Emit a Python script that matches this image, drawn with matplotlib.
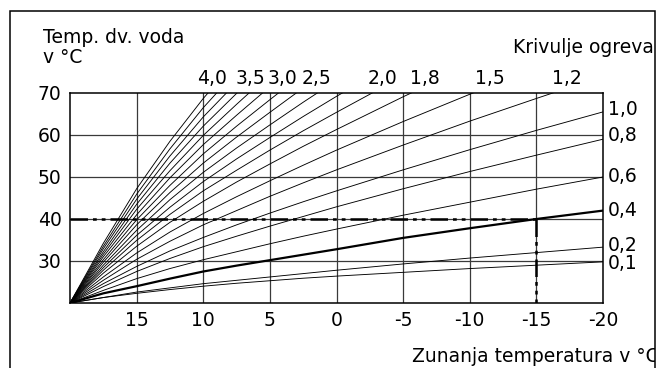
import numpy as np
import matplotlib
matplotlib.use("Agg")
import matplotlib.pyplot as plt
from matplotlib.patches import Rectangle

plt.rcParams['font.family'] = ['DejaVu Sans']

# Aussentemperatur (x) in °C
OUT_T = [20, 17.5, 15, 12.5, 10, 7.5, 5, 2.5, 0, -5, -10, -15, -20]

# Heizkurven: Vorlauftemperatur je Aussentemperatur
CURVE_NAMES = ["4,0", "3,8", "3,6", "3,4", "3,2", "3,0", "2,8", "2,6", "2,4",
               "2,2", "2,0", "1,8", "1,5", "1,2", "1,0", "0,8", "0,6", "0,4",
               "0,2", "0,1"]
CURVES = [
    [20, 34.2, 47.2, 58.5, 68.7, 77.8],
    [20, 33.5, 45.9, 56.7, 66.5, 75.2],
    [20, 32.9, 44.7, 55.0, 64.3, 72.5],
    [20, 32.2, 43.5, 53.3, 62.1, 69.9, 77.5],
    [20, 31.6, 42.3, 51.5, 59.9, 67.3, 74.5],
    [20, 31.0, 41.0, 49.8, 57.7, 64.7, 71.5],
    [20, 30.3, 39.8, 48.0, 55.5, 62.1, 68.4, 74.6],
    [20, 29.7, 38.6, 46.3, 53.3, 59.5, 65.4, 71.2],
    [20, 29.0, 37.3, 44.6, 51.1, 56.9, 62.4, 67.8, 73.0],
    [20, 28.4, 36.1, 42.8, 48.9, 54.3, 59.4, 64.4, 69.2, 78.4],
    [20, 27.8, 34.9, 41.1, 46.7, 51.6, 56.4, 61.0, 65.4, 74.0],
    [20, 27.1, 33.5, 39.2, 44.2, 48.8, 53.1, 57.3, 61.3, 69.1, 76.5],
    [20, 26.2, 31.9, 36.9, 41.3, 45.3, 49.1, 52.8, 56.4, 63.2, 69.7, 75.9],
    [20, 25.4, 30.4, 34.7, 38.6, 42.0, 45.4, 48.6, 51.7, 57.6, 63.3, 68.7, 74.0],
    [20, 24.6, 28.7, 32.4, 35.6, 38.6, 41.4, 44.1, 46.7, 51.7, 56.5, 61.1, 65.5],
    [20, 23.9, 27.5, 30.6, 33.4, 35.9, 38.3, 40.6, 42.9, 47.2, 51.3, 55.2, 59.0],
    [20, 23.0, 25.8, 28.2, 30.3, 32.2, 34.1, 35.9, 37.6, 40.9, 44.0, 47.1, 50.0],
    [20, 22.3, 24.0, 25.8, 27.5, 28.9, 30.2, 31.5, 32.8, 35.5, 37.8, 40.0, 42.0],
    [20, 21.3, 22.6, 23.6, 24.6, 25.4, 26.2, 27.0, 27.8, 29.3, 30.7, 32.0, 33.3],
    [20, 21.3, 22.3, 23.2, 24.0, 24.7, 25.3, 25.9, 26.4, 27.3, 28.2, 29.0, 29.8],
]
BOLD_CURVE = "0,4"

# Beschriftungen oben und rechts
TOP_LABELS = ["4,0", "3,5", "3,0", "2,5", "2,0", "1,8", "1,5", "1,2"]
TOP_LABEL_X = [10.5, 7.6, 5.15, 2.6, -2.35, -5.5, -10.4, -16.2]
RIGHT_LABELS = ["1,0", "0,8", "0,6", "0,4", "0,2", "0,1"]
RIGHT_LABEL_DY = [0.5, 0.9, 0.2, 0.1, 0.4, -0.4]

# Auslegungspunkt
DESIGN_T = -15
DESIGN_FLOW = 40

X_TICKS = [15, 10, 5, 0, -5, -10, -15, -20]
Y_TICKS = [30, 40, 50, 60, 70]

W, H = 661, 368
fig = plt.figure(figsize=(W / 100, H / 100), dpi=100)
ax = fig.add_axes([70 / W, 65 / H, 533 / W, 210 / H])

ax.set_xlim(20, -20)
ax.set_ylim(20, 70)

grid_c = "#3a3a3a"
for t in X_TICKS[:-1]:
    ax.axvline(t, color=grid_c, lw=0.9, zorder=1)
for v in Y_TICKS[:-1]:
    ax.axhline(v, color=grid_c, lw=0.9, zorder=1)

for name, vals in zip(CURVE_NAMES, CURVES):
    bold = name == BOLD_CURVE
    ax.plot(OUT_T[:len(vals)], vals, color="black",
            lw=1.6 if bold else 0.65, zorder=3 if bold else 2,
            solid_joinstyle="round")

# Auslegung: Vorlauf 40 °C bei -15 °C
dash = (0, (7, 2, 1.5, 2, 1.5, 2))
ax.plot([20, DESIGN_T], [DESIGN_FLOW, DESIGN_FLOW], color="black", lw=1.8,
        linestyle=dash, zorder=4)
ax.plot([DESIGN_T, DESIGN_T], [DESIGN_FLOW, 20], color="black", lw=1.8,
        linestyle=dash, zorder=4)

for sp in ax.spines.values():
    sp.set_linewidth(1.1)
    sp.set_color("black")

fs = 13.5
ax.set_xticks(X_TICKS)
ax.set_xticklabels([str(t) for t in X_TICKS])
ax.set_yticks(Y_TICKS)
ax.set_yticklabels([str(v) for v in Y_TICKS])
ax.tick_params(length=0, labelsize=fs, pad=6)

for lab, x in zip(TOP_LABELS, TOP_LABEL_X):
    ax.text(x, 71.2, lab, fontsize=fs, ha="left", va="bottom", clip_on=False)

names = list(CURVE_NAMES)
for lab, dy in zip(RIGHT_LABELS, RIGHT_LABEL_DY):
    yend = CURVES[names.index(lab)][-1]
    ax.text(-20.35, yend + dy, lab, fontsize=fs, ha="left", va="center",
            clip_on=False)

frame = Rectangle((10 / W, -0.05), 645 / W, 1.05 - 11 / H,
                  transform=fig.transFigure, fill=False, lw=1.1,
                  edgecolor="black")
fig.patches.append(frame)

texts = [
    fig.text(43 / W, 1 - 43 / H, "Temp. dv. voda", fontsize=fs, va="baseline"),
    fig.text(43 / W, 1 - 63 / H, "v °C", fontsize=fs, va="baseline"),
    fig.text(513 / W, 1 - 53 / H, "Krivulje ogrevanja", fontsize=fs, va="baseline"),
    fig.text(412 / W, 1 - 362 / H, "Zunanja temperatura v °C", fontsize=fs,
             va="baseline"),
]
for t in texts:
    t.set_clip_path(frame)

fig.savefig("out.png", dpi=100)
